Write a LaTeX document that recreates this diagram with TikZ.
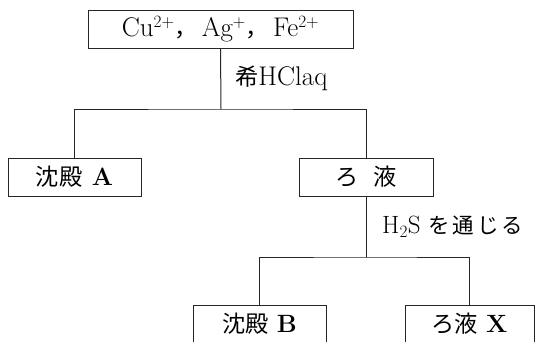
\documentclass[tikz,border=0pt]{standalone}
\usepackage{fontspec}
\newfontfamily\cjk[Scale=0.86]{Noto Sans CJK JP}
\newcommand{\bl}[1]{{\fontsize{25}{29}\selectfont\textbf{#1}}}
\begin{document}
\begin{tikzpicture}[x=1pt,y=-1pt,
  box/.style={draw=black!85,line width=1pt,inner sep=0pt,minimum height=38pt,
    font=\fontsize{27}{31}\selectfont},
  conn/.style={draw=black!85,line width=1pt},
  lbl/.style={inner sep=0pt,anchor=west,font=\fontsize{27}{31}\selectfont}]
\clip (0,0) rectangle (540,341);
\fill[white] (0,0) rectangle (540,341);
\node[box,minimum width=265pt] (top) at (220.5,29.5)
  {Cu$^{2+}${\cjk ，}\hspace{0.15em}Ag$^{+}${\cjk ，}\hspace{0.15em}Fe$^{2+}$};
\node[box,minimum width=133pt] (A) at (74.5,177) {{\cjk 沈殿}\hspace{0.35em}\bl{A}};
\node[box,minimum width=134pt] (R) at (366,177) {{\cjk ろ}\hspace{0.55em}{\cjk 液}};
\node[box,minimum width=133pt] (B) at (259.5,324) {{\cjk 沈殿}\hspace{0.3em}\bl{B}};
\node[box,minimum width=129pt] (X) at (469.5,324) {{\cjk ろ液}\hspace{0.3em}\bl{X}};
\coordinate (j1) at (221,109);
\coordinate (j2) at (366,257);
\node[lbl] (l1) at (235,78) {{\cjk 希}HClaq};
\node[lbl,font=\fontsize{25}{29}\selectfont] (l2) at (382,227)
  {H$_{2}$S\hspace{0.3em}{\cjk を\hspace{3pt}通\hspace{3pt}じ\hspace{3pt}る}};
\draw[conn] (top.south) -- (j1);
\draw[conn] (A.north) |- (j1) -| (R.north);
\draw[conn] (R.south) -- (j2);
\draw[conn] (B.north) |- (j2) -| (X.north);
\end{tikzpicture}
\end{document}
